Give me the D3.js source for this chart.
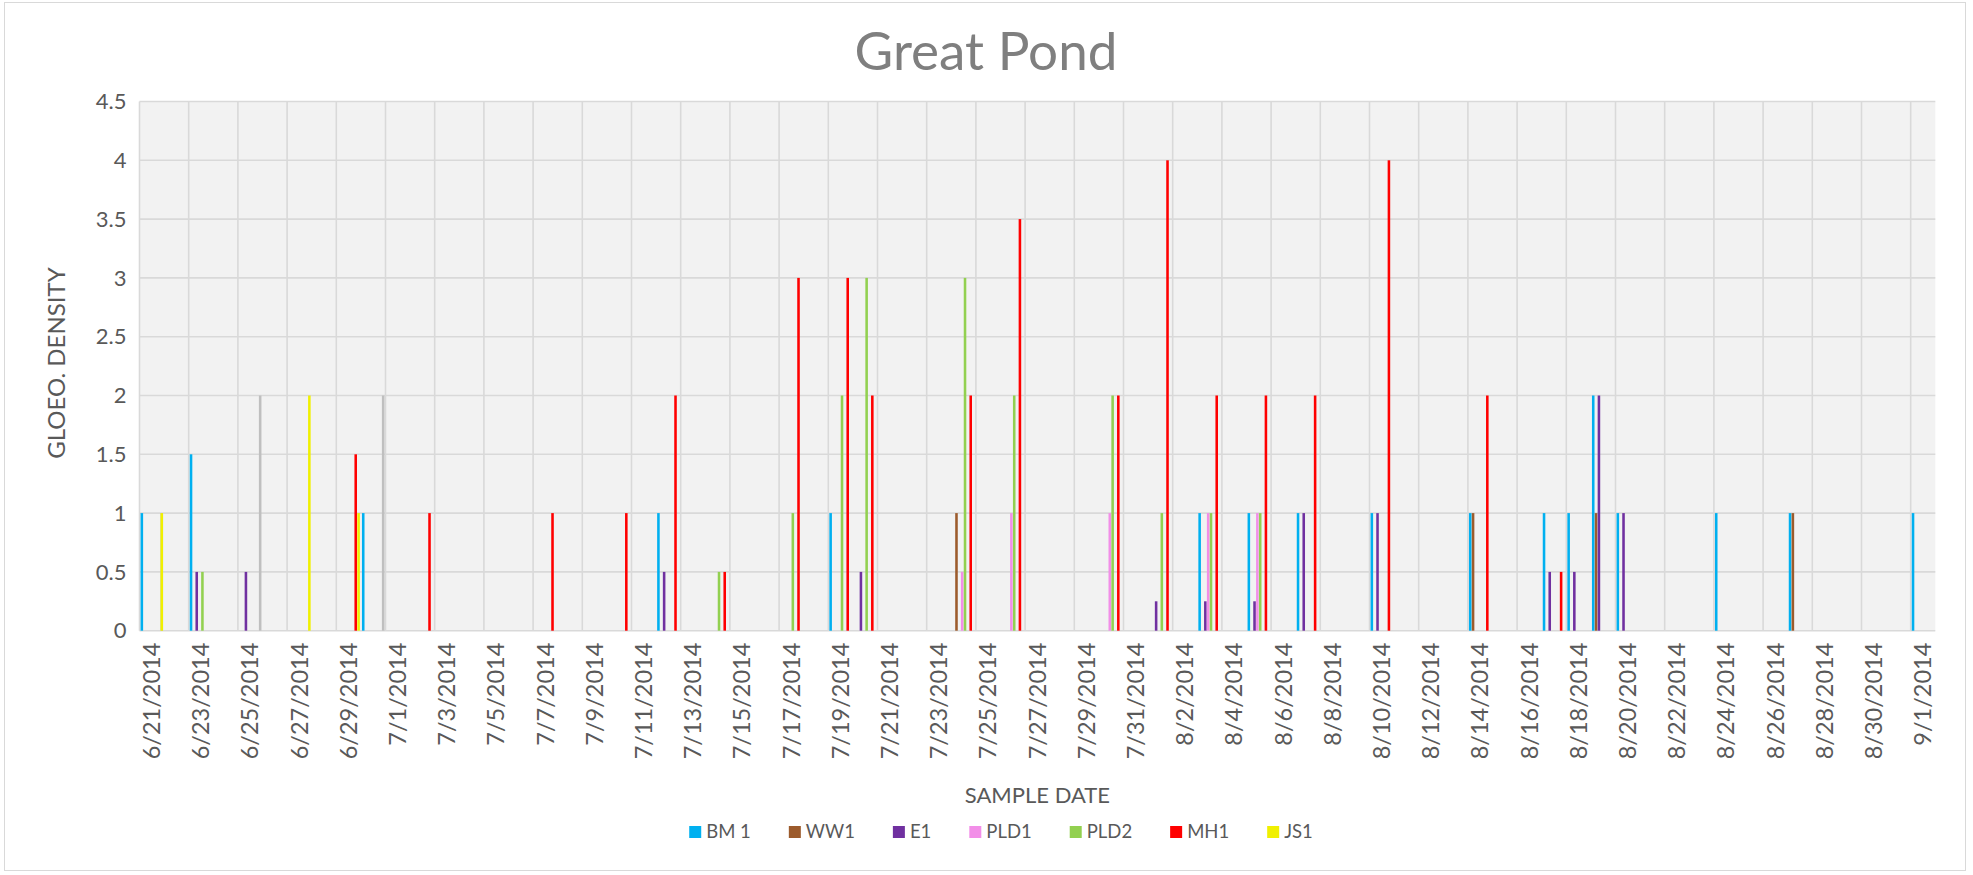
<!DOCTYPE html>
<html>
<head>
<meta charset="utf-8">
<script src="https://cdn.jsdelivr.net/npm/d3@7"></script>
<style>
  body { margin: 0; background: #fff; }
  svg { display: block; font-family: Lato, "Open Sans", sans-serif; }
</style>
</head>
<body>
<svg id="chart" width="1973" height="875"></svg>
<script>
// axis range + tick labels
const firstDay = "6/21/2014";
const lastDay = "9/1/2014";
const yTicks = [0, 0.5, 1, 1.5, 2, 2.5, 3, 3.5, 4, 4.5];

// series shown in the legend
const seriesNames = ["BM 1", "WW1", "E1", "PLD1", "PLD2", "MH1", "JS1"];
const seriesColors = ["#00B0F0", "#9C5B2C", "#7030A0", "#F28EE8", "#92D050", "#FF0000", "#F0F000"];
// excel left an empty slot in the cluster before MH1
const clusterSlots = ["BM 1", "WW1", "E1", "PLD1", "PLD2", "", "MH1", "JS1"];

const bm1Dates = ["6/21", "6/23", "6/30", "7/12", "7/19", "8/3", "8/5", "8/7", "8/10", "8/14", "8/17", "8/18", "8/19", "8/20", "8/24", "8/27", "9/1"];
const bm1Values = [1, 1.5, 1, 1, 1, 1, 1, 1, 1, 1, 1, 1, 2, 1, 1, 1, 1];

const ww1Dates = ["7/24", "8/14", "8/19", "8/27"];
const ww1Values = [1, 1, 1, 1];

const e1Dates = ["6/23", "6/25", "7/12", "7/20", "8/1", "8/3", "8/5", "8/7", "8/10", "8/17", "8/18", "8/19", "8/20"];
const e1Values = [0.5, 0.5, 0.5, 0.5, 0.25, 0.25, 0.25, 1, 1, 0.5, 0.5, 2, 1];

const pld1Dates = ["7/24", "7/26", "7/30", "8/3", "8/5"];
const pld1Values = [0.5, 1, 1, 1, 1];

const pld2Dates = ["6/23", "7/14", "7/17", "7/19", "7/20", "7/24", "7/26", "7/30", "8/1", "8/3", "8/5"];
const pld2Values = [0.5, 0.5, 1, 2, 3, 3, 2, 2, 1, 1, 1];

const mh1Dates = ["6/29", "7/2", "7/7", "7/10", "7/12", "7/14", "7/17", "7/19", "7/20", "7/24", "7/26", "7/30", "8/1", "8/3", "8/5", "8/7", "8/10", "8/14", "8/17"];
const mh1Values = [1.5, 1, 1, 1, 2, 0.5, 3, 3, 2, 2, 3.5, 2, 4, 2, 2, 2, 4, 2, 0.5];

const js1Dates = ["6/21", "6/27", "6/29"];
const js1Values = [1, 2, 1];

// grey bars that have no legend entry
const greyDates = ["6/21", "6/25", "6/30"];
const greyValues = [1, 2, 2];

const width = 1973, height = 875;
const margin = { top: 101.5, right: 37.7, bottom: 244.3, left: 139.5 };
const textGrey = "#595959";

const parse = d3.timeParse("%m/%d/%Y");
const fmt = d3.timeFormat("%-m/%-d/%Y");
const days = d3.timeDay.range(parse(firstDay), d3.timeDay.offset(parse(lastDay), 1)).map(fmt);

const svg = d3.select("#chart");

// chart border
svg.append("rect")
    .attr("x", 4.5).attr("y", 2.5)
    .attr("width", 1961).attr("height", 868)
    .attr("fill", "#fff")
    .attr("stroke", "#D9D9D9");

const x = d3.scaleBand()
    .domain(days)
    .range([margin.left, width - margin.right]);

const slot = d3.scaleBand()
    .domain(clusterSlots)
    .range([0, x.bandwidth()])
    .paddingInner(0.1)
    .paddingOuter(0.37);

const y = d3.scaleLinear()
    .domain([0, 4.5])
    .range([height - margin.bottom, margin.top]);

// plot background
svg.append("rect")
    .attr("x", margin.left).attr("y", margin.top)
    .attr("width", width - margin.left - margin.right)
    .attr("height", y(0) - margin.top)
    .attr("fill", "#F2F2F2");

// gridlines
svg.append("g")
    .selectAll("line")
    .data(yTicks)
    .join("line")
    .attr("x1", margin.left).attr("x2", width - margin.right)
    .attr("y1", d => y(d)).attr("y2", d => y(d))
    .attr("stroke", "#D9D9D9")
    .attr("stroke-width", 1.6);

svg.append("g")
    .selectAll("line")
    .data(days.filter((d, i) => i % 2 === 0))
    .join("line")
    .attr("x1", d => x(d)).attr("x2", d => x(d))
    .attr("y1", margin.top).attr("y2", y(0))
    .attr("stroke", "#D9D9D9")
    .attr("stroke-width", 1.6);

// bars
const allSeries = [
    { name: "grey", slot: "JS1", color: "#BFBFBF", dates: greyDates, values: greyValues },
    { name: "BM 1", slot: "BM 1", color: seriesColors[0], dates: bm1Dates, values: bm1Values },
    { name: "WW1", slot: "WW1", color: seriesColors[1], dates: ww1Dates, values: ww1Values },
    { name: "E1", slot: "E1", color: seriesColors[2], dates: e1Dates, values: e1Values },
    { name: "PLD1", slot: "PLD1", color: seriesColors[3], dates: pld1Dates, values: pld1Values },
    { name: "PLD2", slot: "PLD2", color: seriesColors[4], dates: pld2Dates, values: pld2Values },
    { name: "MH1", slot: "MH1", color: seriesColors[5], dates: mh1Dates, values: mh1Values },
    { name: "JS1", slot: "JS1", color: seriesColors[6], dates: js1Dates, values: js1Values }
];

const barLayer = svg.append("g");
allSeries.forEach(s => {
    const pts = s.dates.map((d, i) => ({ day: fmt(parse(d + "/2014")), v: s.values[i] }));
    barLayer.append("g")
        .attr("fill", s.color)
        .selectAll("rect")
        .data(pts)
        .join("rect")
        .attr("x", d => x(d.day) + slot(s.slot))
        .attr("width", slot.bandwidth())
        .attr("y", d => y(d.v))
        .attr("height", d => y(0) - y(d.v));
});

// y axis labels
svg.append("g")
    .selectAll("text")
    .data(yTicks)
    .join("text")
    .attr("x", margin.left - 13)
    .attr("y", d => y(d))
    .attr("dy", "0.35em")
    .attr("text-anchor", "end")
    .attr("font-size", 22)
    .attr("fill", textGrey)
    .text(d => d);

// x axis labels, every second day
svg.append("g")
    .selectAll("text")
    .data(days.filter((d, i) => i % 2 === 0))
    .join("text")
    .attr("transform", d => `translate(${x(d) + x.bandwidth() / 2},${y(0) + 12}) rotate(-90)`)
    .attr("dy", "0.35em")
    .attr("text-anchor", "end")
    .attr("font-size", 23.5)
    .attr("fill", textGrey)
    .text(d => d);

// titles
svg.append("text")
    .attr("x", 986).attr("y", 70)
    .attr("text-anchor", "middle")
    .attr("font-size", 53)
    .attr("fill", "#7F7F7F")
    .text("Great Pond");

svg.append("text")
    .attr("transform", `translate(57,${(margin.top + y(0)) / 2 - 3}) rotate(-90)`)
    .attr("text-anchor", "middle")
    .attr("dy", "0.35em")
    .attr("font-size", 24)
    .attr("fill", textGrey)
    .text("GLOEO. DENSITY");

svg.append("text")
    .attr("x", (margin.left + width - margin.right) / 2)
    .attr("y", 803)
    .attr("text-anchor", "middle")
    .attr("font-size", 22)
    .attr("fill", textGrey)
    .text("SAMPLE DATE");

// legend
const legend = svg.append("g");
const legendGap = 38;
let lx = 0;
seriesNames.forEach((name, i) => {
    const item = legend.append("g").attr("transform", `translate(${lx},0)`);
    item.append("rect")
        .attr("x", 0).attr("y", -6)
        .attr("width", 12).attr("height", 12)
        .attr("fill", seriesColors[i]);
    const t = item.append("text")
        .attr("x", 17).attr("dy", "0.35em")
        .attr("font-size", 18.5)
        .attr("fill", textGrey)
        .text(name);
    lx += 17 + t.node().getComputedTextLength() + legendGap;
});
legend.attr("transform", `translate(${1001 - (lx - legendGap) / 2},832)`);
</script>
</body>
</html>
